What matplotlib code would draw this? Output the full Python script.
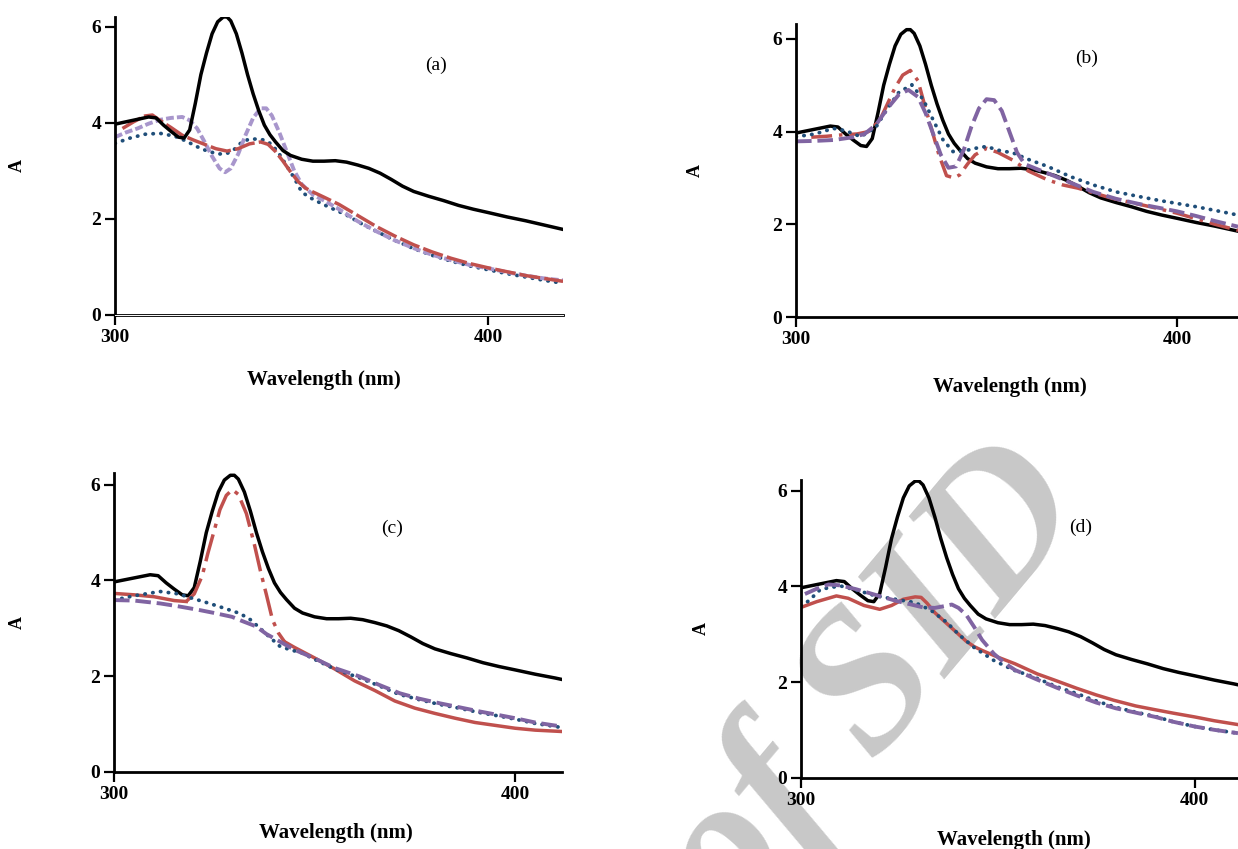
import numpy as np
import matplotlib
matplotlib.use('Agg')
import matplotlib.pyplot as plt

plt.rcParams['font.family'] = ['Liberation Serif', 'DejaVu Serif']
plt.rcParams['font.weight'] = 'bold'

# reference spectrum (black), same in all four panels
ref_wl = [300, 303, 306, 309, 311, 313, 315, 317, 318.5, 320, 321.5, 323, 324.5, 326, 327.5, 329, 330,
          331, 332.5, 334, 335.5, 337, 338.5, 340, 341.5, 343, 345, 347, 350, 353, 356, 359, 362, 365,
          368, 371, 374, 377, 380, 384, 388, 392, 396, 400, 405, 410, 415, 420]
ref_A = [3.97, 4.02, 4.07, 4.12, 4.1, 3.95, 3.82, 3.7, 3.68, 3.85, 4.4, 5.0, 5.45, 5.85, 6.1, 6.2, 6.2,
         6.12, 5.85, 5.45, 5.0, 4.6, 4.25, 3.95, 3.75, 3.6, 3.42, 3.32, 3.24, 3.2, 3.2, 3.21, 3.18, 3.12,
         3.05, 2.95, 2.82, 2.68, 2.57, 2.47, 2.38, 2.28, 2.2, 2.13, 2.04, 1.96, 1.87, 1.78]

# panel (a)
a_red_wl = [302, 305, 308, 310, 312, 315, 318, 321, 324, 327, 330, 333, 336, 339, 341, 343, 345, 347,
            349, 351, 353, 356, 360, 365, 370, 375, 380, 385, 390, 395, 400, 405, 410, 415, 420]
a_red_A = [3.88, 4.02, 4.14, 4.16, 4.05, 3.9, 3.74, 3.64, 3.55, 3.46, 3.41, 3.46, 3.56, 3.6, 3.55, 3.4,
           3.2, 2.98, 2.78, 2.64, 2.56, 2.45, 2.3, 2.07, 1.84, 1.64, 1.46, 1.31, 1.18, 1.07, 0.98, 0.9,
           0.82, 0.76, 0.7]
a_pur_wl = [300, 303, 306, 309, 312, 315, 318, 320, 322, 324, 326, 328, 329.5, 331, 333, 335, 337, 339,
            340.5, 342, 344, 346, 348, 350, 353, 356, 360, 365, 370, 375, 380, 385, 390, 395, 400, 405,
            410, 415, 420]
a_pur_A = [3.7, 3.8, 3.88, 3.98, 4.06, 4.1, 4.12, 4.05, 3.88, 3.6, 3.3, 3.05, 2.97, 3.05, 3.35, 3.75,
           4.1, 4.3, 4.3, 4.15, 3.8, 3.4, 3.0, 2.72, 2.5, 2.38, 2.2, 1.95, 1.74, 1.55, 1.39, 1.25, 1.14,
           1.04, 0.97, 0.89, 0.82, 0.76, 0.72]
a_blu_wl = [300, 304, 308, 312, 316, 319, 322, 325, 328, 330, 332, 334, 336, 338, 340, 342, 344, 346,
            348, 350, 352, 355, 358, 362, 366, 370, 375, 380, 385, 390, 395, 400, 405, 410, 415, 420]
a_blu_A = [3.57, 3.68, 3.76, 3.78, 3.72, 3.62, 3.5, 3.4, 3.35, 3.36, 3.45, 3.6, 3.66, 3.66, 3.64, 3.55,
           3.35, 3.1, 2.85, 2.56, 2.45, 2.33, 2.22, 2.08, 1.9, 1.74, 1.55, 1.38, 1.24, 1.12, 1.02, 0.94,
           0.86, 0.79, 0.72, 0.66]

# panel (b)
b_red_wl = [304, 308, 312, 316, 319, 322, 324, 326, 328, 330, 332, 334, 335.6, 337.5, 339.5, 341.5, 343,
            345, 347, 350, 353, 357, 361, 366, 370, 374, 378, 383, 388, 394, 400, 405, 410, 416]
b_red_A = [3.88, 3.9, 3.93, 3.95, 4.0, 4.25, 4.6, 4.95, 5.22, 5.32, 5.1, 4.5, 4.05, 3.5, 3.05, 3.0,
           3.07, 3.3, 3.5, 3.64, 3.55, 3.38, 3.15, 2.96, 2.85, 2.78, 2.68, 2.56, 2.47, 2.36, 2.24, 2.12,
           2.0, 1.87]
b_blu_wl = [300, 305, 309.8, 313, 317, 321, 324, 327, 330.4, 333.4, 336, 338.6, 341.2, 344, 347, 350, 353,
            357, 361, 366, 372, 378, 384, 390, 395, 400, 405, 410, 416]
b_blu_A = [3.89, 3.95, 4.07, 4.02, 3.89, 4.1, 4.5, 4.85, 5.01, 4.69, 4.25, 3.82, 3.57, 3.58, 3.64, 3.68,
           3.6, 3.54, 3.4, 3.25, 3.03, 2.85, 2.7, 2.6, 2.52, 2.45, 2.38, 2.3, 2.2]
b_pur_wl = [300, 305, 310, 315, 318, 321, 324, 327, 329.5, 332, 334, 336, 338, 340, 342, 344, 346, 348,
            350, 352, 354, 356, 358, 360, 363, 367, 372, 378, 384, 390, 395, 400, 405, 410, 416]
b_pur_A = [3.79, 3.8, 3.82, 3.88, 3.95, 4.15, 4.5, 4.8, 4.9, 4.75, 4.4, 3.95, 3.5, 3.22, 3.25, 3.6, 4.1,
           4.5, 4.7, 4.68, 4.45, 4.0, 3.55, 3.3, 3.2, 3.07, 2.9, 2.7, 2.55, 2.44, 2.36, 2.28, 2.18, 2.07,
           1.95]

# panel (c)
c_red_wl = [300, 305, 310, 315, 318, 320, 322, 323.4, 325, 326.4, 328, 329.5, 331, 333, 335, 336.5, 338,
            339.5, 341, 342.5, 345, 350, 355, 360, 365, 370, 375, 380, 385, 390, 395, 400, 405, 412]
c_red_A = [3.73, 3.7, 3.66, 3.58, 3.56, 3.72, 4.1, 4.57, 5.05, 5.48, 5.78, 5.9, 5.8, 5.4, 4.75, 4.2,
           3.7, 3.18, 2.9, 2.72, 2.6, 2.38, 2.15, 1.9, 1.7, 1.48, 1.33, 1.22, 1.12, 1.03, 0.97, 0.91,
           0.87, 0.84]
c_blu_wl = [300, 305, 311.5, 316, 319.4, 323, 326.4, 331.4, 334, 336.4, 339, 341.4, 344, 347, 350, 355,
            361, 366, 371, 376, 381, 386, 391, 395, 400, 405, 412]
c_blu_A = [3.59, 3.68, 3.77, 3.72, 3.63, 3.54, 3.45, 3.31, 3.18, 3.0, 2.8, 2.62, 2.55, 2.48, 2.35, 2.15,
           1.97, 1.8, 1.62, 1.51, 1.41, 1.33, 1.24, 1.18, 1.1, 1.01, 0.92]
c_pur_wl = [300, 305, 311.5, 316, 321.4, 325, 329.4, 332, 335.4, 338, 341.4, 345, 350, 355, 361.3, 366,
            371.3, 376, 381.3, 386, 391.2, 395, 400, 405, 412]
c_pur_A = [3.59, 3.58, 3.52, 3.46, 3.38, 3.32, 3.24, 3.15, 3.04, 2.88, 2.72, 2.55, 2.37, 2.17, 1.99, 1.82,
           1.64, 1.53, 1.43, 1.35, 1.26, 1.2, 1.12, 1.03, 0.94]

# panel (d)
d_red_wl = [300, 304, 309, 312, 316, 320, 323, 326, 329, 330.5, 332, 334, 338, 342, 344, 346, 350, 354.4,
            360, 364.4, 370, 375, 379.4, 385, 390, 394.5, 400, 405, 411]
d_red_A = [3.56, 3.68, 3.8, 3.75, 3.6, 3.52, 3.6, 3.73, 3.78, 3.77, 3.65, 3.45, 3.15, 2.85, 2.74, 2.66,
           2.52, 2.38, 2.17, 2.04, 1.87, 1.73, 1.62, 1.5, 1.42, 1.35, 1.27, 1.19, 1.11]
d_blu_wl = [300, 302, 305, 310, 315, 319, 324, 329, 333, 337, 340, 344, 349, 354, 359, 365, 370, 374.4,
            380, 385, 390, 394.5, 400, 405, 411]
d_blu_A = [3.59, 3.7, 3.94, 4.01, 3.9, 3.8, 3.73, 3.66, 3.5, 3.25, 3.0, 2.72, 2.45, 2.25, 2.11, 1.9,
           1.76, 1.62, 1.47, 1.37, 1.28, 1.17, 1.07, 1.0, 0.93]
d_pur_wl = [301, 304, 307, 310, 314, 319, 324, 328, 331, 334, 336, 338.3, 340, 342, 344, 346, 349, 352,
            354.4, 360, 365, 370, 375, 380, 385, 390, 394.5, 400, 405, 411]
d_pur_A = [3.84, 3.95, 4.04, 4.02, 3.94, 3.82, 3.7, 3.62, 3.56, 3.55, 3.58, 3.62, 3.55, 3.4, 3.15, 2.88,
           2.59, 2.38, 2.25, 2.05, 1.88, 1.72, 1.57, 1.45, 1.36, 1.27, 1.17, 1.07, 1.0, 0.93]

BLACK = 'black'
RED = '#c0504d'
BLUE = '#1f4e79'
PURPLE = '#8064a2'
LPURPLE = '#a896cc'

fig = plt.figure(figsize=(12.38, 8.49), dpi=100)

# [left, bottom, width, height], xmax, ymax
panels = {
    'a': ([0.0929, 0.629, 0.3619, 0.351], 420, 6.2),
    'b': ([0.643, 0.6266, 0.357, 0.345], 416, 6.32),
    'c': ([0.0921, 0.0910, 0.3619, 0.352], 411.7, 6.25),
    'd': ([0.647, 0.0840, 0.353, 0.351], 411, 6.23),
}
label_pos = {'a': (0.717, 0.839), 'b': (0.657, 0.884), 'c': (0.621, 0.816), 'd': (0.64, 0.839)}
xlab_pos = {'a': (0.467, -0.218), 'b': (0.484, -0.239), 'c': (0.496, -0.204), 'd': (0.487, -0.208)}
ylab_x = {'a': -0.217, 'b': -0.228, 'c': -0.215, 'd': -0.227}

axes = {}
for key, (rect, xmax, ymax) in panels.items():
    ax = fig.add_axes(rect)
    ax.patch.set_alpha(0)
    ax.set_xlim(300, xmax)
    ax.set_ylim(0, ymax)
    for s in ['top', 'right']:
        ax.spines[s].set_visible(False)
    for s in ['left', 'bottom']:
        ax.spines[s].set_linewidth(2.0)
    ax.set_xticks([300, 400])
    ax.set_yticks([0, 2, 4, 6])
    ax.tick_params(axis='both', direction='out', length=7, width=1.6, labelsize=14, pad=3)
    ax.tick_params(axis='x', pad=3)
    for t in ax.get_xticklabels() + ax.get_yticklabels():
        t.set_fontweight('bold')
    ax.set_xlabel('Wavelength (nm)', fontsize=15, fontweight='bold', va='center')
    ax.xaxis.set_label_coords(*xlab_pos[key])
    ax.set_ylabel('A', fontsize=13, fontweight='bold', va='center')
    ax.yaxis.set_label_coords(ylab_x[key], 0.5)
    ax.text(label_pos[key][0], label_pos[key][1], '(%s)' % key, transform=ax.transAxes,
            ha='center', va='center', fontsize=14, fontweight='normal')
    axes[key] = ax

lw = 2.5
dot = dict(linestyle=(0, (0.1, 2.0)), dash_capstyle='round', lw=2.7, color=BLUE)

# (a)
ax = axes['a']
ax.plot(a_blu_wl, a_blu_A, **dot)
ax.plot(a_pur_wl, a_pur_A, color=LPURPLE, lw=2.8, linestyle=(0, (2.0, 0.8)))
ax.plot(a_red_wl, a_red_A, color=RED, lw=lw, linestyle=(0, (6, 1.2)))
ax.plot(ref_wl, ref_A, color=BLACK, lw=lw)
# double bottom axis line
ax.axhline(0, color='white', lw=0.7, zorder=3, clip_on=False)

# (b)
ax = axes['b']
ax.plot(ref_wl, ref_A, color=BLACK, lw=lw)
ax.plot(b_red_wl, b_red_A, color=RED, lw=lw, linestyle=(0, (6, 2, 1, 2)))
ax.plot(b_blu_wl, b_blu_A, **dot)
ax.plot(b_pur_wl, b_pur_A, color=PURPLE, lw=2.8, linestyle=(0, (4, 1.5)))

# (c)
ax = axes['c']
ax.plot(ref_wl, ref_A, color=BLACK, lw=lw)
wl = np.array(c_red_wl)
A = np.array(c_red_A)
mid = (wl >= 318) & (wl <= 343)
ax.plot(wl[wl <= 318], A[wl <= 318], color=RED, lw=lw)
ax.plot(wl[mid], A[mid], color=RED, lw=lw, linestyle=(0, (8, 2, 1.2, 2)))
ax.plot(wl[wl >= 342.5], A[wl >= 342.5], color=RED, lw=lw)
ax.plot(c_blu_wl, c_blu_A, **dot)
ax.plot(c_pur_wl, c_pur_A, color=PURPLE, lw=2.8, linestyle=(0, (4, 1.5)))

# (d)
ax = axes['d']
ax.plot(ref_wl, ref_A, color=BLACK, lw=lw)
ax.plot(d_red_wl, d_red_A, color=RED, lw=lw)
ax.plot(d_blu_wl, d_blu_A, **dot)
ax.plot(d_pur_wl, d_pur_A, color=PURPLE, lw=2.8, linestyle=(0, (4, 1.5)))

# watermark
fig.text(0.706, 0.192, 'of SID', rotation=50, fontsize=145, color='#c8c8c8',
         fontstyle='italic', fontweight='bold', ha='center', va='center', zorder=-1)

fig.savefig('out.png', dpi=100)
